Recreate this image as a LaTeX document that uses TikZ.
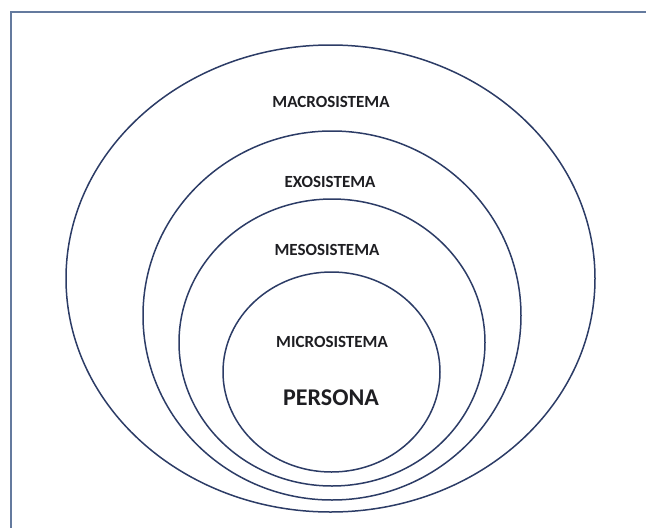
\documentclass[tikz,border=0pt]{standalone}
\usepackage{fontspec}
\setmainfont{Carlito}
\definecolor{ring}{RGB}{44,60,102}
\definecolor{frame}{RGB}{100,122,158}
\definecolor{ink}{RGB}{30,30,34}
\usetikzlibrary{positioning}

\begin{document}
\begin{tikzpicture}[x=1pt,y=-1pt,
    ringline/.style={ring,line width=1.5pt},
    level/.style={text=ink,font=\bfseries\fontsize{17}{20}\selectfont,inner sep=0pt}]
  \useasboundingbox (0,0) rectangle (646,528);
  % frame, only top and left edge inside the page
  \draw[frame,line width=1.6pt] (647,12) -- (11,12) -- (11,529);
  % nested systems
  \draw[ringline] (330.5,278.5) ellipse [x radius=264.5,y radius=233.5];
  \draw[ringline] (332,315.5) ellipse [x radius=189,y radius=184.5];
  \draw[ringline] (332,342.5) ellipse [x radius=153,y radius=143.5];
  \draw[ringline] (331.5,372) ellipse [x radius=108.5,y radius=100];
  % labels
  \node[level] (macro) at (331,102) {MACROSISTEMA};
  \node[level] (exo) at (330,182) {EXOSISTEMA};
  \node[level] (meso) at (327,250) {MESOSISTEMA};
  \node[level] (micro) at (332,342) {MICROSISTEMA};
  \node[text=ink,font=\bfseries\fontsize{24}{28}\selectfont,inner sep=0pt] (persona) at (331,398) {PERSONA};
\end{tikzpicture}
\end{document}
